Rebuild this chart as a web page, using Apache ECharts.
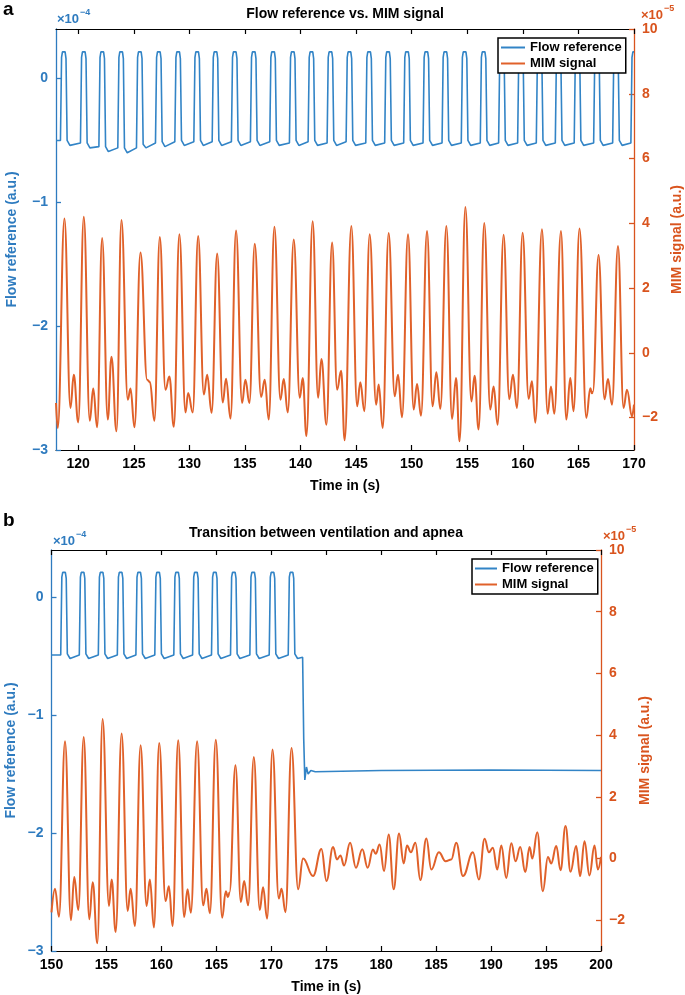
<!DOCTYPE html>
<html>
<head>
<meta charset="utf-8">
<script src="https://cdn.jsdelivr.net/npm/echarts@6/dist/echarts.min.js"></script>
<style>html,body{margin:0;padding:0;background:#fff}#c{width:685px;height:995px}</style>
</head>
<body>
<div id="c"></div>
<script>
// ---------- DATA ----------
// Panel a: time axis ticks (s)
const timeTicksA = [120,125,130,135,140,145,150,155,160,165,170];
// Panel b: time axis ticks (s)
const timeTicksB = [150,155,160,165,170,175,180,185,190,195,200];
// Flow reference axis ticks (x1e-4 a.u.)
const flowTicks = [-3,-2,-1,0];
// MIM signal axis ticks (x1e-5 a.u.)
const mimTicks = [-2,0,2,4,6,8,10];

// Panel a: flow reference [time s, value x1e-4]
const flowA = [
[118.00,-0.50],
[118.40,-0.50],[118.50,0.17],[118.58,0.215],[118.82,0.215],[118.90,0.16],[119.00,-0.50],[119.25,-0.54],
[120.20,-0.52],[120.30,0.17],[120.38,0.215],[120.62,0.215],[120.70,0.16],[120.80,-0.52],[121.05,-0.56],
[121.86,-0.55],[121.96,0.17],[122.04,0.215],[122.28,0.215],[122.36,0.16],[122.46,-0.55],[122.71,-0.59],
[123.56,-0.56],[123.66,0.17],[123.74,0.215],[123.98,0.215],[124.06,0.16],[124.16,-0.56],[124.41,-0.60],
[125.24,-0.56],[125.34,0.17],[125.42,0.215],[125.66,0.215],[125.74,0.16],[125.84,-0.53],[126.09,-0.56],
[126.95,-0.52],[127.05,0.17],[127.13,0.215],[127.37,0.215],[127.45,0.16],[127.55,-0.51],[127.80,-0.55],
[128.69,-0.51],[128.79,0.17],[128.87,0.215],[129.11,0.215],[129.19,0.16],[129.29,-0.50],[129.54,-0.54],
[130.40,-0.51],[130.50,0.17],[130.58,0.215],[130.82,0.215],[130.90,0.16],[131.00,-0.50],[131.25,-0.54],
[132.05,-0.51],[132.15,0.17],[132.23,0.215],[132.47,0.215],[132.55,0.16],[132.65,-0.50],[132.90,-0.54],
[133.78,-0.51],[133.88,0.17],[133.96,0.215],[134.20,0.215],[134.28,0.16],[134.38,-0.50],[134.63,-0.54],
[135.49,-0.51],[135.59,0.17],[135.67,0.215],[135.91,0.215],[135.99,0.16],[136.09,-0.50],[136.34,-0.54],
[137.23,-0.51],[137.33,0.17],[137.41,0.215],[137.65,0.215],[137.73,0.16],[137.83,-0.50],[138.08,-0.54],
[139.00,-0.52],[139.10,0.17],[139.18,0.215],[139.42,0.215],[139.50,0.16],[139.60,-0.50],[139.85,-0.54],
[140.68,-0.51],[140.78,0.17],[140.86,0.215],[141.10,0.215],[141.18,0.16],[141.28,-0.50],[141.53,-0.54],
[142.39,-0.52],[142.49,0.17],[142.57,0.215],[142.81,0.215],[142.89,0.16],[142.99,-0.50],[143.24,-0.54],
[144.10,-0.51],[144.20,0.17],[144.28,0.215],[144.52,0.215],[144.60,0.16],[144.70,-0.50],[144.95,-0.54],
[145.87,-0.52],[145.97,0.17],[146.05,0.215],[146.29,0.215],[146.37,0.16],[146.47,-0.50],[146.72,-0.54],
[147.57,-0.52],[147.67,0.17],[147.75,0.215],[147.99,0.215],[148.07,0.16],[148.17,-0.50],[148.42,-0.54],
[149.28,-0.52],[149.38,0.17],[149.46,0.215],[149.70,0.215],[149.78,0.16],[149.88,-0.50],[150.13,-0.54],
[151.02,-0.52],[151.12,0.17],[151.20,0.215],[151.44,0.215],[151.52,0.16],[151.62,-0.50],[151.87,-0.54],
[152.73,-0.52],[152.83,0.17],[152.91,0.215],[153.15,0.215],[153.23,0.16],[153.33,-0.50],[153.58,-0.54],
[154.46,-0.52],[154.56,0.17],[154.64,0.215],[154.88,0.215],[154.96,0.16],[155.06,-0.50],[155.31,-0.54],
[156.17,-0.52],[156.27,0.17],[156.35,0.215],[156.59,0.215],[156.67,0.16],[156.77,-0.50],[157.02,-0.54],
[157.82,-0.52],[157.92,0.17],[158.00,0.215],[158.24,0.215],[158.32,0.16],[158.42,-0.50],[158.67,-0.54],
[159.53,-0.52],[159.63,0.17],[159.71,0.215],[159.95,0.215],[160.03,0.16],[160.13,-0.50],[160.38,-0.54],
[161.21,-0.52],[161.31,0.17],[161.39,0.215],[161.63,0.215],[161.71,0.16],[161.81,-0.50],[162.06,-0.54],
[162.92,-0.52],[163.02,0.17],[163.10,0.215],[163.34,0.215],[163.42,0.16],[163.52,-0.50],[163.77,-0.54],
[164.62,-0.52],[164.72,0.17],[164.80,0.215],[165.04,0.215],[165.12,0.16],[165.22,-0.50],[165.47,-0.54],
[166.37,-0.52],[166.47,0.17],[166.55,0.215],[166.79,0.215],[166.87,0.16],[166.97,-0.50],[167.22,-0.54],
[168.08,-0.52],[168.18,0.17],[168.26,0.215],[168.50,0.215],[168.58,0.16],[168.68,-0.50],[168.93,-0.54],
[169.72,-0.52],[169.82,0.17],[169.90,0.215],[170.00,0.215]
];

// Panel a: MIM signal [time s, value x1e-5]
const mimA = [
[118.00,-1.55],[118.16,-2.32],[118.76,4.15],[119.30,-1.70],[119.60,-0.68],[120.00,-2.15],
[120.50,4.20],[121.04,-2.10],[121.35,-1.10],[121.70,-2.30],
[122.15,3.55],[122.66,-2.06],[122.99,-0.12],[123.44,-2.42],
[123.89,4.10],[124.46,-1.45],[124.70,-1.10],[125.06,-2.30],
[125.60,3.10],[126.20,-0.83],[126.45,-0.90],[126.85,-2.10],
[127.34,3.58],[127.85,-1.14],[128.20,-0.73],[128.60,-2.28],
[129.10,3.66],[129.65,-1.84],[129.89,-1.24],[130.30,-1.84],
[130.79,3.61],[131.30,-1.29],[131.60,-0.68],[132.00,-1.85],
[132.50,3.07],[133.00,-1.53],[133.30,-0.80],[133.70,-2.03],
[134.20,3.78],[134.74,-1.55],[135.04,-0.83],[135.40,-1.55],
[135.88,3.37],[136.45,-1.36],[136.78,-0.83],[137.14,-2.06],
[137.65,3.89],[138.19,-1.45],[138.49,-0.81],[138.85,-1.84],
[139.39,3.50],[139.93,-1.39],[140.20,-0.78],[140.53,-2.57],
[141.09,4.06],[141.58,-1.39],[141.88,-0.19],[142.33,-2.22],
[142.84,3.41],[143.29,-1.14],[143.65,-0.55],[143.97,-2.70],
[144.57,3.92],[145.09,-1.65],[145.38,-0.91],[145.74,-1.80],
[146.22,3.66],[146.80,-1.60],[147.03,-0.98],[147.39,-2.32],
[147.93,3.70],[148.47,-1.34],[148.77,-0.68],[149.13,-1.99],
[149.67,3.66],[150.18,-1.75],[150.48,-0.96],[150.84,-1.94],
[151.38,3.76],[151.88,-1.65],[152.22,-0.60],[152.58,-1.73],
[153.12,3.92],[153.63,-2.04],[153.99,-0.78],[154.31,-2.73],
[154.83,4.50],[155.37,-1.50],[155.66,-0.71],[156.02,-2.37],
[156.53,4.01],[157.07,-1.75],[157.37,-1.04],[157.73,-2.22],
[158.27,3.65],[158.78,-1.43],[159.11,-0.68],[159.47,-1.70],
[159.98,3.71],[160.52,-1.42],[160.82,-0.88],[161.12,-2.16],
[161.72,3.82],[162.23,-1.88],[162.53,-1.04],[162.83,-1.88],
[163.43,3.76],[163.91,-2.06],[164.27,-0.78],[164.56,-1.80],
[165.10,3.84],[165.71,-2.01],[166.07,-1.09],[166.22,-1.25],[166.30,-1.20],
[166.81,3.02],[167.35,-1.43],[167.66,-0.81],[168.02,-1.60],
[168.56,3.30],[169.06,-1.70],[169.37,-1.14],[169.82,-1.96],[170.00,-1.60]
];

// Panel b: flow reference [time s, value x1e-4]
const flowB = [
[150.00,-0.49],
[150.84,-0.49],[150.94,0.17],[151.02,0.21],[151.26,0.21],[151.34,0.16],[151.44,-0.48],[151.69,-0.52],
[152.53,-0.49],[152.63,0.17],[152.71,0.21],[152.95,0.21],[153.03,0.16],[153.13,-0.48],[153.38,-0.52],
[154.26,-0.49],[154.36,0.17],[154.44,0.21],[154.68,0.21],[154.76,0.16],[154.86,-0.48],[155.11,-0.52],
[155.99,-0.49],[156.09,0.17],[156.17,0.21],[156.41,0.21],[156.49,0.16],[156.59,-0.48],[156.84,-0.52],
[157.68,-0.49],[157.78,0.17],[157.86,0.21],[158.10,0.21],[158.18,0.16],[158.28,-0.48],[158.53,-0.52],
[159.40,-0.49],[159.50,0.17],[159.58,0.21],[159.82,0.21],[159.90,0.16],[160.00,-0.48],[160.25,-0.52],
[161.13,-0.49],[161.23,0.17],[161.31,0.21],[161.55,0.21],[161.63,0.16],[161.73,-0.48],[161.98,-0.52],
[162.84,-0.49],[162.94,0.17],[163.02,0.21],[163.26,0.21],[163.34,0.16],[163.44,-0.48],[163.69,-0.52],
[164.56,-0.49],[164.66,0.17],[164.74,0.21],[164.98,0.21],[165.06,0.16],[165.16,-0.48],[165.41,-0.52],
[166.29,-0.49],[166.39,0.17],[166.47,0.21],[166.71,0.21],[166.79,0.16],[166.89,-0.48],[167.14,-0.52],
[168.05,-0.49],[168.15,0.17],[168.23,0.21],[168.47,0.21],[168.55,0.16],[168.65,-0.48],[168.90,-0.52],
[169.81,-0.49],[169.91,0.17],[169.99,0.21],[170.23,0.21],[170.31,0.16],[170.41,-0.48],[170.66,-0.52],
[171.54,-0.49],[171.64,0.17],[171.72,0.21],[171.96,0.21],[172.04,0.16],[172.14,-0.48],[172.39,-0.52],
[172.85,-0.51],[172.95,-1.20],[173.05,-1.55],[173.20,-1.44],[173.35,-1.50],[173.60,-1.47],
[174.00,-1.48],[180.00,-1.47],[190.00,-1.465],[200.00,-1.47]
];

// Panel b: MIM signal [time s, value x1e-5]
const mimB = [
[150.00,-1.75],[150.32,-0.98],[150.68,-1.89],
[151.23,3.80],[151.77,-2.00],[152.07,-0.60],[152.44,-1.67],
[152.93,3.94],[153.44,-1.97],[153.75,-0.77],[154.17,-2.75],
[154.65,4.52],[155.23,-1.54],[155.47,-0.68],[155.84,-2.38],
[156.38,4.05],[156.93,-1.70],[157.20,-0.98],[157.59,-2.19],
[158.11,3.67],[158.65,-1.54],[158.95,-0.68],[159.32,-2.24],
[159.80,3.74],[160.38,-1.38],[160.68,-0.90],[161.02,-2.19],
[161.53,3.83],[162.07,-1.90],[162.38,-1.00],[162.68,-1.76],
[163.25,3.80],[163.80,-1.52],[164.10,-0.98],[164.41,-1.78],
[164.95,3.85],[165.53,-1.92],[165.86,-1.06],[166.05,-1.25],[166.20,-1.10],
[166.74,3.02],[167.23,-1.41],[167.53,-0.73],[167.89,-1.52],
[168.41,3.29],[168.95,-1.67],[169.25,-0.93],[169.62,-1.95],
[170.11,3.53],[170.68,-1.30],[170.93,-0.98],[171.29,-1.74],
[171.84,3.58],[172.44,-1.00],[172.89,0.00],[173.80,-0.57],
[174.56,0.31],[175.02,-0.73],[175.62,0.37],[175.98,-0.03],[176.29,0.10],[176.62,-0.23],
[177.17,0.51],[177.70,-0.30],[178.28,0.30],[178.77,-0.30],[179.25,0.29],[179.50,0.15],
[179.86,0.45],[180.26,-0.41],[180.68,0.78],[181.14,-1.00],[181.62,0.81],[182.05,-0.16],
[182.35,0.42],[182.70,0.20],[183.11,0.51],[183.56,-0.70],[184.11,0.65],[184.56,-0.36],
[185.25,0.20],[185.86,-0.09],[186.38,-0.03],[186.83,0.51],[187.44,-0.57],[188.35,0.20],
[188.89,-0.68],[189.41,0.64],[189.80,0.20],[190.16,0.35],[190.56,-0.36],[190.93,0.42],
[191.38,-0.63],[191.84,0.49],[192.23,-0.09],[192.65,0.37],[193.11,-0.44],[193.50,0.37],
[193.75,0.00],[194.20,0.85],[194.71,-1.06],[195.17,0.05],[195.47,-0.16],[195.93,0.40],
[196.32,-0.38],[196.77,1.05],[197.23,-0.43],[197.74,0.40],[198.10,-0.57],[198.50,0.56],
[198.95,-0.55],[199.41,0.42],[199.71,-0.36],[200.00,0.05]
];

// ---------- STYLE ----------
const FONT = "'Liberation Sans', Arial, Helvetica, sans-serif";
const BLUE = '#2E7BBF';
const BLUE_LINE = '#3284C6';
const ORANGE = '#D9541E';
const ORANGE_LINE = '#E0612A';
const minus = v => String(v).replace('-', '\u2212');

function xAxes(gridIndex, min, max, ticks) {
  return [
    {
      type: 'value', gridIndex, position: 'bottom', min, max,
      axisLine: {onZero: false, lineStyle: {color: '#000', width: 1.2}},
      axisTick: {inside: true, length: 5, customValues: ticks, lineStyle: {color: '#000', width: 1.2}},
      axisLabel: {customValues: ticks, color: '#000', fontFamily: FONT, fontWeight: 'bold', fontSize: 14, margin: 7},
      splitLine: {show: false},
      name: 'Time in (s)', nameLocation: 'middle', nameGap: 29,
      nameTextStyle: {color: '#000', fontFamily: FONT, fontWeight: 'bold', fontSize: 14}
    },
    {
      type: 'value', gridIndex, position: 'top', min, max,
      axisLine: {onZero: false, lineStyle: {color: '#000', width: 1.2}},
      axisTick: {inside: true, length: 5, customValues: ticks, lineStyle: {color: '#000', width: 1.2}},
      axisLabel: {show: false},
      splitLine: {show: false}
    }
  ];
}

function yAxes(gridIndex, gapL, gapR) {
  return [
    {
      type: 'value', gridIndex, position: 'left', min: -3, max: 0.4,
      axisLine: {show: true, onZero: false, lineStyle: {color: BLUE, width: 1.3}},
      axisTick: {show: true, inside: true, length: 5, customValues: flowTicks, lineStyle: {color: BLUE, width: 1.3}},
      axisLabel: {customValues: flowTicks, formatter: minus, color: BLUE, fontFamily: FONT, fontWeight: 'bold', fontSize: 14, margin: 8},
      splitLine: {show: false},
      name: 'Flow reference (a.u.)', nameLocation: 'middle', nameRotate: 90, nameGap: gapL, nameMoveOverlap: false,
      nameTextStyle: {color: BLUE, fontFamily: FONT, fontWeight: 'bold', fontSize: 14}
    },
    {
      type: 'value', gridIndex, position: 'right', min: -3, max: 10,
      axisLine: {show: true, onZero: false, lineStyle: {color: ORANGE, width: 1.3}},
      axisTick: {show: true, inside: true, length: 5, customValues: mimTicks, lineStyle: {color: ORANGE, width: 1.3}},
      axisLabel: {customValues: mimTicks, formatter: minus, color: ORANGE, fontFamily: FONT, fontWeight: 'bold', fontSize: 14, margin: 8},
      splitLine: {show: false},
      name: 'MIM signal (a.u.)', nameLocation: 'middle', nameRotate: 90, nameGap: gapR, nameMoveOverlap: false,
      nameTextStyle: {color: ORANGE, fontFamily: FONT, fontWeight: 'bold', fontSize: 14}
    }
  ];
}

function legend(left, top, itemWidth) {
  return {
    left, top, orient: 'vertical', selectedMode: false,
    backgroundColor: '#fff', borderColor: '#000', borderWidth: 1.5, borderRadius: 0,
    padding: [3, 4, 3, 3], itemGap: 3, itemWidth, itemHeight: 2, icon: 'rect',
    textStyle: {color: '#000', fontFamily: FONT, fontWeight: 'bold', fontSize: 13},
    data: ['Flow reference', 'MIM signal'], z: 10
  };
}

function txt(x, y, text, color, size, align) {
  return {type: 'text', x, y, z: 100, style: {text, fill: color, font: 'bold ' + size + 'px ' + FONT, align: align || 'left', verticalAlign: 'middle'}};
}

const option = {
  animation: false,
  backgroundColor: '#fff',
  grid: [
    {left: 56, top: 29, width: 578, height: 421, containLabel: false, outerBoundsMode: 'none'},
    {left: 51.5, top: 550, width: 549.5, height: 401, containLabel: false, outerBoundsMode: 'none'}
  ],
  xAxis: [].concat(xAxes(0, 118, 170, timeTicksA), xAxes(1, 150, 200, timeTicksB)),
  yAxis: [].concat(yAxes(0, 37, 36), yAxes(1, 33, 37)),
  legend: [legend(498, 38, 24), legend(472, 559, 22)],
  graphic: [
    txt(3, 10, 'a', '#000', 19),
    txt(3, 521, 'b', '#000', 19),
    txt(345, 14, 'Flow reference vs. MIM signal', '#000', 14, 'center'),
    txt(326, 533, 'Transition between ventilation and apnea', '#000', 14, 'center'),
    txt(57, 19, '\u00d710', BLUE, 13),
    txt(80, 13, '\u22124', BLUE, 9),
    txt(641, 15, '\u00d710', ORANGE, 13),
    txt(664, 9, '\u22125', ORANGE, 9),
    txt(53, 541, '\u00d710', BLUE, 13),
    txt(76, 535, '\u22124', BLUE, 9),
    txt(603, 536, '\u00d710', ORANGE, 13),
    txt(626, 530, '\u22125', ORANGE, 9)
  ],
  series: [
    {type: 'line', name: 'Flow reference', xAxisIndex: 0, yAxisIndex: 0, data: flowA, symbol: 'none', smooth: false,
     lineStyle: {color: BLUE_LINE, width: 1.6}, itemStyle: {color: BLUE_LINE}},
    {type: 'line', name: 'MIM signal', xAxisIndex: 0, yAxisIndex: 1, data: mimA, symbol: 'none', smooth: 0.42, smoothMonotone: 'x',
     lineStyle: {color: ORANGE_LINE, width: 2}, itemStyle: {color: ORANGE_LINE}},
    {type: 'line', name: 'Flow reference', xAxisIndex: 2, yAxisIndex: 2, data: flowB, symbol: 'none', smooth: false,
     lineStyle: {color: BLUE_LINE, width: 1.6}, itemStyle: {color: BLUE_LINE}},
    {type: 'line', name: 'MIM signal', xAxisIndex: 2, yAxisIndex: 3, data: mimB, symbol: 'none', smooth: 0.42, smoothMonotone: 'x',
     lineStyle: {color: ORANGE_LINE, width: 2}, itemStyle: {color: ORANGE_LINE}}
  ]
};

const chart = echarts.init(document.getElementById('c'), null, {renderer: 'canvas'});
chart.setOption(option);
</script>
</body>
</html>
